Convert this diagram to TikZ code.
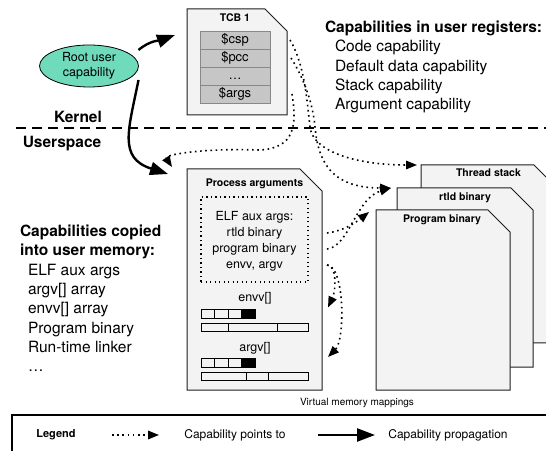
\documentclass[tikz,border=0pt]{standalone}
\usepackage{fontspec}
\setmainfont{TeX Gyre Heros}
\usetikzlibrary{positioning,arrows.meta,calc,shapes}

\definecolor{pagefill}{HTML}{F3F3F3}
\definecolor{pageline}{HTML}{1E1E1E}
\definecolor{regfill}{HTML}{C6C6C6}
\definecolor{regline}{HTML}{888888}
\definecolor{rootfill}{HTML}{6FDBBA}

% outline of a page with its top right corner cut off
\newcommand{\pageoutline}[1]{%
    \filldraw[page_outline] (#1.south west) -- (#1.north west)
        -- ([xshift=-22pt]#1.north east) -- ([yshift=-22pt]#1.north east)
        -- (#1.south east) -- cycle;
}

\tikzset{
        textnode/.style={inner sep=0pt, outer sep=0pt},
        % Pages (TCB, process arguments, memory mappings)
        page_node/.style={textnode, minimum width=#1},
        page_outline/.style={draw=pageline, fill=pagefill, line width=1pt},
        page_title/.style={textnode, font=\bfseries\fontsize{10.5}{12}\selectfont, text height=8pt, text depth=2pt},
        % Registers in the TCB
        node_register/.style={textnode, rectangle, draw=regline, fill=regfill, line width=0.8pt, minimum width=70pt, minimum height=18pt, font=\fontsize{13}{15}\selectfont, text height=9.5pt, text depth=3pt},
        % Root capability
        node_root/.style={textnode, ellipse, draw=black, fill=rootfill, line width=0.8pt, minimum width=99pt, minimum height=42pt, align=center, font=\fontsize{12.5}{15}\selectfont},
        % Array cells
        node_cell/.style={textnode, rectangle, draw=black, line width=0.9pt, minimum width=13.5pt, minimum height=9pt},
        node_cell_end/.style={node_cell, fill=black},
        node_bar/.style={node_cell, minimum width=#1, minimum height=8pt},
        % Texts
        node_small/.style={textnode, font=\fontsize{12.5}{15}\selectfont, text height=10pt, text depth=2pt},
        node_region/.style={textnode, font=\bfseries\fontsize{15.5}{19}\selectfont},
        node_list/.style={textnode, align=left, font=\fontsize{15.5}{19.3}\selectfont},
        % Connectors
        edge_points/.style={line width=1.6pt, dash pattern=on 1.6pt off 3.6pt, -{Triangle[length=11pt,width=8.5pt]}},
        edge_propagates/.style={line width=2.4pt, -{Triangle[length=18pt,width=13pt]}}
}

\begin{document}
\begin{tikzpicture}[x=1pt, y=1pt]
    \useasboundingbox (0,0) rectangle (546,450);
    \clip (0,0) rectangle (546,450);

    % kernel / userspace boundary
    \draw[line width=1.3pt, dash pattern=on 10pt off 6pt] (16,322) -- (546,322);
    \node[node_region] (kernel) at (78,333) {Kernel};
    \node[node_region] (userspace) at (62,306) {Userspace};

    % memory mappings
    \node[page_node=135pt, minimum height=178pt] (stack) at (488.5,196) {};
    \pageoutline{stack}
    \node[page_title, below=4pt of stack.north] (stacktitle) {Thread stack};
    \node[page_node=136pt, minimum height=179pt] (rtld) at (465,172.5) {};
    \pageoutline{rtld}
    \node[page_title, below=5pt of rtld.north] (rtldtitle) {rtld binary};
    \node[page_node=134pt, minimum height=180pt] (prog) at (443,150) {};
    \pageoutline{prog}
    \node[page_title, below=5pt of prog.north, xshift=-1pt] (progtitle) {Program binary};
    \node[textnode, font=\fontsize{10}{12}\selectfont] (vmlabel) at (357,47) {Virtual memory mappings};

    % thread control block
    \node[page_node=100pt, minimum height=106pt] (tcb) at (237,388) {};
    \pageoutline{tcb}
    \node[page_title, below=5pt of tcb.north, xshift=-2pt] (tcbtitle) {TCB 1};
    \node[node_register, below=7pt of tcbtitle] (reg1) {\$csp};
    \node[node_register, below=0pt of reg1] (reg2) {\$pcc};
    \node[node_register, below=0pt of reg2] (reg3) {…};
    \node[node_register, below=0pt of reg3] (reg4) {\$args};

    % process arguments
    \node[page_node=135pt, minimum height=221pt] (args) at (254.5,170.5) {};
    \pageoutline{args}
    \node[page_title, below=10pt of args.north] (argstitle) {Process arguments};
    \node[textnode, draw=black, line width=1.3pt, dash pattern=on 1.3pt off 3.2pt, minimum width=107pt, minimum height=85pt] (auxbox) at (254.5,210.5) {};
    \node[node_small] (elftxt) at (254.5,233) {ELF aux args:};
    \node[node_small, below=4pt of elftxt] (rtldtxt) {rtld binary};
    \node[node_small, below=4pt of rtldtxt] (progtxt) {program binary};
    \node[node_small, below=4pt of progtxt] (envtxt) {envv, argv};

    \node[node_small] (envvlabel) at (255,152) {envv[]};
    \node[node_cell, anchor=west] (envv1) at (201,136.5) {};
    \node[node_cell, right=0pt of envv1] (envv2) {};
    \node[node_cell, right=0pt of envv2] (envv3) {};
    \node[node_cell_end, right=0pt of envv3] (envv4) {};
    \node[node_bar=27pt, below=5pt of envv1.south west, anchor=north west] (envvbar1) {};
    \node[node_bar=49pt, right=0pt of envvbar1] (envvbar2) {};
    \node[node_bar=31pt, right=0pt of envvbar2] (envvbar3) {};

    \node[node_small] (argvlabel) at (255,103) {argv[]};
    \node[node_cell, anchor=west] (argv1) at (201,87) {};
    \node[node_cell, right=0pt of argv1] (argv2) {};
    \node[node_cell, right=0pt of argv2] (argv3) {};
    \node[node_cell_end, right=0pt of argv3] (argv4) {};
    \node[node_bar=45pt, below=4.5pt of argv1.south west, anchor=north west] (argvbar1) {};
    \node[node_bar=22pt, right=0pt of argvbar1] (argvbar2) {};
    \node[node_bar=40pt, right=0pt of argvbar2] (argvbar3) {};

    % root capability
    \node[node_root] (root) at (89,384) {Root user\\capability};

    % lists of capabilities
    \node[node_list, anchor=north west] (reglist) at (325,429) {\textbf{Capabilities in user registers:}\\
        \hspace*{10pt}Code capability\\
        \hspace*{10pt}Default data capability\\
        \hspace*{10pt}Stack capability\\
        \hspace*{10pt}Argument capability};
    \node[node_list, anchor=north west] (memlist) at (20,225) {\textbf{Capabilities copied}\\
        \textbf{into user memory:}\\
        \hspace*{8pt}ELF aux args\\
        \hspace*{8pt}argv[] array\\
        \hspace*{8pt}envv[] array\\
        \hspace*{8pt}Program binary\\
        \hspace*{8pt}Run-time linker\\
        \hspace*{8pt}…};

    % propagation
    \draw[edge_propagates] ([yshift=16pt]root.east) to[out=40, in=200] ([shift={(-12pt,-26pt)}]tcb.north west);
    \draw[edge_propagates] ([yshift=-14pt]root.east) .. controls +(-10pt,-50pt) and +(-50pt,16pt) .. ([shift={(-19pt,-5pt)}]args.north west);

    % capabilities in registers
    \draw[edge_points] ($(tcb.east |- reg1.east)+(3pt,0)$) .. controls +(15pt,-25pt) and +(-3pt,25pt) .. ++(20pt,-87pt)
        .. controls +(3pt,-25pt) and +(-60pt,0pt) .. ([xshift=-4pt]stack.north west);
    \draw[edge_points] ($(tcb.east |- reg2.east)+(4pt,0)$) .. controls +(14pt,-22pt) and +(-2pt,22pt) .. ++(24pt,-69pt)
        .. controls +(3pt,-33pt) and +(-61pt,0pt) .. ([xshift=-6pt]rtld.north west);
    \draw[edge_points] ($(tcb.east |- reg4.east)+(5pt,0)$) .. controls +(5pt,-31pt) and +(35pt,2pt) .. ++(-32pt,-56pt)
        .. controls +(-60pt,2pt) and +(-8pt,12pt) .. ([shift={(-15pt,2pt)}]args.north west);

    % capabilities in the process arguments
    \draw[edge_points] ($(args.east |- rtldtxt)+(5pt,0)$) .. controls +(15pt,2pt) and +(-15pt,-12pt) .. ([shift={(-7pt,-2pt)}]prog.north west);
    \draw[edge_points] ($(args.east |- progtxt)+(5pt,0)$) .. controls +(22pt,2pt) and +(-35pt,-10pt) .. ([xshift=-6pt]rtld.north west);
    \draw[edge_points] ($(args.east |- envtxt)+(5pt,0)$) .. controls +(10pt,0pt) and +(8pt,17pt) .. ($(args.east |- envv4)+(6pt,6pt)$);
    \draw[edge_points] ($(args.east |- envtxt)+(5pt,0)$) .. controls +(18pt,-1pt) and +(17pt,17pt) .. ($(args.east |- argv4)+(6pt,6pt)$);

    % legend
    \draw[line width=1.2pt] (12,35) rectangle (562,-12);
    \node[textnode, font=\bfseries\fontsize{11}{13}\selectfont] (legend) at (56,15) {Legend};
    \coordinate (pointsfrom) at (112,15);
    \coordinate (pointsto) at (159,15);
    \draw[edge_points] (pointsfrom) -- (pointsto);
    \node[textnode, font=\fontsize{12}{14}\selectfont] (pointslabel) at (235,15) {Capability points to};
    \coordinate (propfrom) at (318,15);
    \coordinate (propto) at (375,15);
    \draw[edge_propagates] (propfrom) -- (propto);
    \node[textnode, font=\fontsize{12}{14}\selectfont] (proplabel) at (448,15) {Capability propagation};
\end{tikzpicture}
\end{document}
